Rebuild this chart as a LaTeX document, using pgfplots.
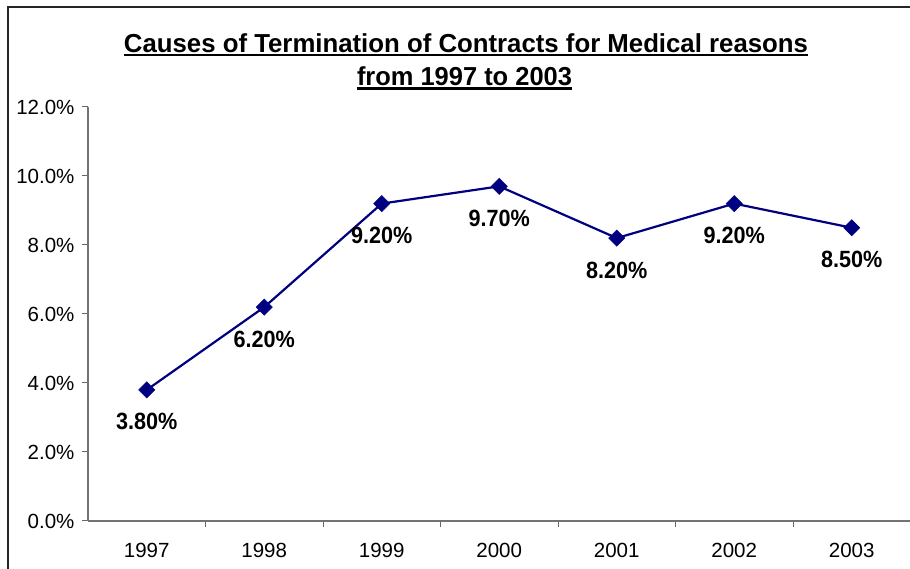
\documentclass[border=0pt]{standalone}
\usepackage{fontspec}
\setmainfont{Liberation Sans}
\usepackage{pgfplots}
\pgfplotsset{compat=1.18}
\definecolor{navyline}{HTML}{000080}
\newcommand\ul[1]{\setbox0=\hbox{#1}\rlap{\rule[-4pt]{\wd0}{2.6pt}}\box0}
\begin{document}
\begin{tikzpicture}[x=1pt,y=1pt]
\useasboundingbox (0,0) rectangle (910,569);
\draw[line width=1.6pt, black!85] (8,0) -- (8,562) -- (912,562);
\node[anchor=base, inner sep=0pt] at (466,516.5)
  {\resizebox{684pt}{\height}{\ul{\bfseries\fontsize{26}{30}\selectfont Causes of Termination of Contracts for Medical reasons}}};
\node[anchor=base, inner sep=0pt] at (464.5,483)
  {\resizebox{215pt}{\height}{\ul{\bfseries\fontsize{26}{30}\selectfont from 1997 to 2003}}};
\begin{axis}[
  scale only axis,
  width=822.5pt, height=414pt,
  at={(88pt,48pt)}, anchor=south west,
  xmin=-0.5, xmax=6.5, ymin=0, ymax=12,
  axis x line=bottom, axis y line=left,
  axis line style={black!55, line width=1.4pt, -},
  every tick/.style={black!60, line width=1pt},
  tick align=outside,
  major tick length=6pt,
  /pgf/number format/assume math mode=true,
  xtick={0.5,1.5,...,5.5},
  xticklabels={},
  extra x ticks={0,1,2,3,4,5,6},
  extra x tick labels={1997,1998,1999,2000,2001,2002,2003},
  extra x tick style={major tick length=0pt},
  ytick={0,2,...,12},
  yticklabel={\pgfmathprintnumber[fixed,fixed zerofill,precision=1]{\tick}\%},
  tick label style={font=\fontsize{20.5}{24}\selectfont, black},
  xticklabel style={yshift=-19pt},
  yticklabel style={xshift=-4pt},
  clip=false,
  nodes near coords={\scalebox{0.92}[1]{\pgfmathprintnumber[fixed,fixed zerofill,precision=2]{\pgfplotspointmeta}\%}},
  every node near coord/.style={anchor=center, yshift=-32pt, font=\bfseries\fontsize{23.5}{26}\selectfont, black},
]
\addplot[navyline, line width=2.2pt, mark=square*, mark size=5.7pt, mark options={fill=navyline, draw=navyline, line width=0.5pt, rotate=45}]
  coordinates {(0,3.8) (1,6.2) (2,9.2) (3,9.7) (4,8.2) (5,9.2) (6,8.5)};
\end{axis}
\end{tikzpicture}
\end{document}
